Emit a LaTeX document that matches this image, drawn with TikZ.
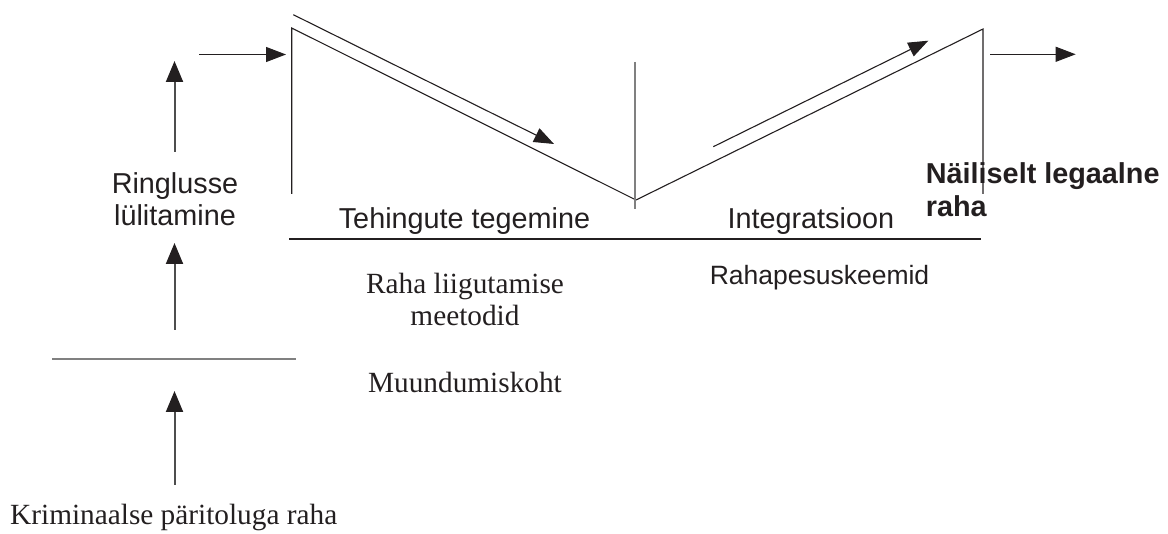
\documentclass[tikz,border=0pt]{standalone}
\usepackage{fontspec}
\setmainfont{Liberation Serif}
\setsansfont{Liberation Sans}
\usetikzlibrary{arrows.meta}
\definecolor{ink}{HTML}{231F20}
\definecolor{greyline}{HTML}{808080}
\definecolor{shaft}{HTML}{4D4D4D}
\begin{document}
\begin{tikzpicture}[x=1pt,y=-1pt,
  thin line/.style={draw=ink,line width=1.1pt},
  grey line/.style={draw=greyline,line width=1.6pt},
  riser/.style={draw=shaft,line width=2pt,-{Triangle[length=21pt,width=17pt,color=ink]}},
  flowarr/.style={draw=ink,line width=1.1pt,-{Triangle[length=20pt,width=15pt]}},
  sanslabel/.style={font=\sffamily\fontsize{28.8}{31.7}\selectfont,text=ink,inner sep=0pt,align=center},
  seriflabel/.style={font=\rmfamily\fontsize{29.3}{31.7}\selectfont,text=ink,inner sep=0pt,align=center},
  boldlabel/.style={font=\sffamily\bfseries\fontsize{28.8}{32.7}\selectfont,text=ink,inner sep=0pt,align=left}]
\useasboundingbox (0,0) rectangle (1168,534);
% key points
\coordinate (TL) at (291.7,28);
\coordinate (LB) at (291.7,194);
\coordinate (V) at (636,200);
\coordinate (MT) at (635,62);
\coordinate (MB) at (635,209);
\coordinate (TR) at (983,29);
\coordinate (RB) at (983,194);
\coordinate (A1s) at (293.3,14.7);
\coordinate (A1e) at (554,144);
\coordinate (A2s) at (713.3,146.7);
\coordinate (A2e) at (928.3,40.7);
\coordinate (BLs) at (289.3,239);
\coordinate (BLe) at (980.7,239);
\coordinate (LLs) at (52.3,359);
\coordinate (LLe) at (296,359);
\coordinate (U1s) at (174.5,152);
\coordinate (U1e) at (174.5,61);
\coordinate (U2s) at (174.5,330);
\coordinate (U2e) at (174.5,243);
\coordinate (U3s) at (174.5,485);
\coordinate (U3e) at (174.5,391);
\coordinate (H1s) at (199,54.5);
\coordinate (H1e) at (286,54.5);
\coordinate (H2s) at (990,54.3);
\coordinate (H2e) at (1075.7,54.3);
% trapezoid / V shape
\draw[thin line] (LB) -- (TL) -- (V) -- (TR) -- (RB);
\draw[grey line] (MT) -- (MB);
\draw[thin line] (BLs) -- (BLe);
\draw[grey line] (LLs) -- (LLe);
% flow arrows
\draw[flowarr] (A1s) -- (A1e);
\draw[flowarr] (A2s) -- (A2e);
\draw[flowarr] (H1s) -- (H1e);
\draw[flowarr] (H2s) -- (H2e);
\draw[riser] (U1s) -- (U1e);
\draw[riser] (U2s) -- (U2e);
\draw[riser] (U3s) -- (U3e);
% labels (base anchor of a multi-line node = baseline of its last line)
\node[sanslabel,anchor=base] (ring) at (175,225.7) {Ringlusse\\lülitamine};
\node[sanslabel,anchor=base] (teh) at (464.5,228.3) {Tehingute tegemine};
\node[sanslabel,anchor=base] (integ) at (810.8,229) {Integratsioon};
\node[boldlabel,anchor=base west] (nail) at (925.7,216.7) {Näiliselt legaalne\\raha};
\node[seriflabel,anchor=base] (liig) at (465,325.7) {Raha liigutamise\\meetodid};
\node[sanslabel,font=\sffamily\fontsize{26.5}{30}\selectfont,anchor=base] (skeem) at (819.5,285) {Rahapesuskeemid};
\node[seriflabel,anchor=base] (muun) at (465,393) {Muundumiskoht};
\node[seriflabel,anchor=base west] (krim) at (10,525) {Kriminaalse päritoluga raha};
\end{tikzpicture}
\end{document}
